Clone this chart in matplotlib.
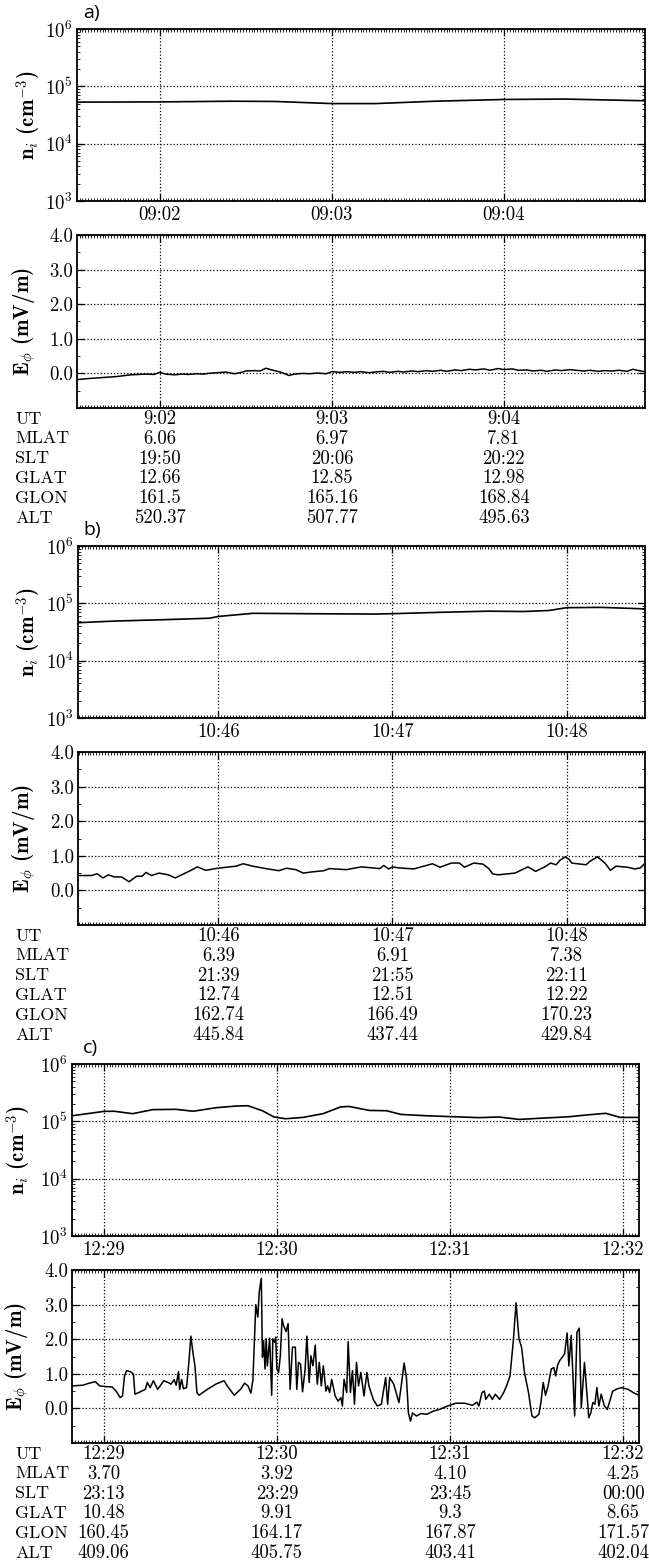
import matplotlib
matplotlib.use("Agg")
import matplotlib.pyplot as plt
from matplotlib.ticker import FixedLocator, MultipleLocator, LogLocator, NullFormatter
from matplotlib.transforms import blended_transform_factory

plt.rcParams["font.family"] = "serif"
plt.rcParams["font.serif"] = ["cmr10"]
plt.rcParams["mathtext.fontset"] = "cm"
plt.rcParams["axes.formatter.use_mathtext"] = True
plt.rcParams["font.size"] = 13.5

# ---- a) times in s after 09:01:00
a_ni_t = [31, 60, 85, 100, 120, 135, 156, 180, 201, 229]
a_ni = [5.3e4, 5.35e4, 5.5e4, 5.45e4, 5.0e4, 5.0e4, 5.5e4, 5.9e4, 6.0e4, 5.6e4]
a_e_t = [31, 35, 40, 45, 50, 55, 58, 60, 62, 65, 68, 70, 73, 75, 78, 80, 83, 86, 88,
         90, 93, 95, 97, 99, 101, 103, 105, 107, 110, 112, 115, 118, 120, 123, 125,
         128, 130, 133, 135, 138, 140, 143, 145, 148, 150, 153, 155, 158, 160, 163,
         165, 168, 170, 173, 175, 178, 180, 183, 185, 188, 190, 193, 195, 198, 200,
         203, 205, 208, 210, 213, 215, 218, 220, 223, 225, 227, 229]
a_e = [-0.18, -0.15, -0.12, -0.09, -0.04, -0.02, -0.03, 0.03, -0.02, -0.04, -0.02,
       -0.03, -0.01, -0.02, 0.01, 0.02, 0.04, -0.01, 0.02, 0.07, 0.08, 0.07, 0.15,
       0.10, 0.06, 0.01, -0.06, -0.02, 0.0, -0.01, 0.01, -0.01, 0.05, 0.03, 0.05,
       0.03, 0.05, 0.02, 0.04, 0.06, 0.03, 0.06, 0.04, 0.07, 0.05, 0.08, 0.06, 0.09,
       0.06, 0.10, 0.08, 0.12, 0.10, 0.13, 0.09, 0.14, 0.11, 0.13, 0.09, 0.10, 0.07,
       0.09, 0.06, 0.10, 0.08, 0.11, 0.09, 0.07, 0.09, 0.06, 0.08, 0.07, 0.09, 0.06,
       0.12, 0.08, 0.05]
a_xticks = [60, 120, 180]
a_ni_ticklabels = ["09:02", "09:03", "09:04"]
a_table = {
    "UT": ["9:02", "9:03", "9:04"],
    "MLAT": ["6.06", "6.97", "7.81"],
    "SLT": ["19:50", "20:06", "20:22"],
    "GLAT": ["12.66", "12.85", "12.98"],
    "GLON": ["161.5", "165.16", "168.84"],
    "ALT": ["520.37", "507.77", "495.63"],
}

# ---- b) times in s after 10:45:00
b_ni_t = [12, 24, 42, 57, 60, 72, 90, 114, 120, 138, 153, 165, 174, 180, 192, 207]
b_ni = [4.6e4, 4.9e4, 5.2e4, 5.5e4, 5.9e4, 6.7e4, 6.6e4, 6.5e4, 6.6e4, 7.0e4,
        7.3e4, 7.2e4, 7.5e4, 8.4e4, 8.5e4, 8.0e4]
b_e_t = [11.9, 16.4, 18.3, 20.3, 22.2, 24.1, 26.7, 29.3, 31.9, 33.8, 35.1, 37.0,
         39.6, 42.8, 45.2, 47.4, 50.6, 52.8, 55.7, 59.0, 62.8, 66.1, 68.6, 71.9,
         76.4, 80.9, 83.5, 86.7, 89.3, 91.9, 96.4, 98.3, 104.1, 109.3, 115.7, 117.0,
         118.7, 120.0, 122.2, 127.4, 129.9, 133.8, 136.4, 140.3, 143.1, 144.8, 148.0,
         151.2, 153.2, 154.5, 156.4, 162.2, 166.7, 169.3, 172.5, 174.5, 176.4, 177.7,
         179.6, 180.9, 181.8, 186.7, 188.0, 190.6, 193.2, 195.1, 197.0, 200.9, 203.5,
         205.4, 206.7]
b_e = [0.43, 0.43, 0.48, 0.36, 0.45, 0.39, 0.39, 0.25, 0.41, 0.41, 0.52, 0.43,
       0.50, 0.45, 0.36, 0.45, 0.58, 0.68, 0.58, 0.63, 0.67, 0.70, 0.77, 0.70, 0.63,
       0.57, 0.64, 0.60, 0.50, 0.53, 0.57, 0.63, 0.60, 0.68, 0.63, 0.72, 0.62, 0.68,
       0.65, 0.62, 0.68, 0.77, 0.67, 0.79, 0.79, 0.67, 0.79, 0.76, 0.63, 0.48, 0.45,
       0.50, 0.68, 0.55, 0.68, 0.79, 0.74, 0.87, 0.97, 0.89, 0.79, 0.74, 0.84, 0.97,
       0.79, 0.58, 0.70, 0.67, 0.62, 0.65, 0.76]
b_xticks = [60, 120, 180]
b_ni_ticklabels = ["10:46", "10:47", "10:48"]
b_table = {
    "UT": ["10:46", "10:47", "10:48"],
    "MLAT": ["6.39", "6.91", "7.38"],
    "SLT": ["21:39", "21:55", "22:11"],
    "GLAT": ["12.74", "12.51", "12.22"],
    "GLON": ["162.74", "166.49", "170.23"],
    "ALT": ["445.84", "437.44", "429.84"],
}

# ---- c) times in s after 12:28:00
c_ni_t = [49, 60, 63.6, 70, 77, 85, 91, 99, 106, 110, 115, 119, 123, 129, 136, 142,
          145, 152, 158, 163, 172, 182, 190, 197, 204, 211, 221, 228, 234, 239, 246]
c_ni = [1.25e5, 1.49e5, 1.5e5, 1.36e5, 1.6e5, 1.62e5, 1.5e5, 1.73e5, 1.85e5, 1.87e5,
        1.53e5, 1.19e5, 1.11e5, 1.17e5, 1.36e5, 1.78e5, 1.82e5, 1.55e5, 1.53e5,
        1.32e5, 1.25e5, 1.2e5, 1.16e5, 1.19e5, 1.08e5, 1.13e5, 1.2e5, 1.3e5, 1.38e5,
        1.17e5, 1.17e5]
c_e_t = [48.9, 52.8, 55.0, 57.1, 58.6, 60.7, 62.9, 64.3, 65.7, 66.5, 67.2, 67.9,
         69.3, 70.3, 70.8, 72.2, 74.4, 75.1, 76.1, 77.2, 78.7, 80.8, 82.3, 83.3, 84.4,
         85.1, 85.9, 86.3, 87.0, 87.6, 88.7, 89.4, 90.2, 90.9, 91.6, 92.3, 93.0, 95.9,
         98.8, 101.7, 102.8, 105.2, 107.4, 108.8, 110.0, 111.0, 111.7, 112.7, 113.4,
         113.9, 114.6, 115.0, 115.4, 115.9, 116.3, 116.7, 117.5, 118.2, 118.6, 119.2,
         119.6, 120.0, 120.6, 121.2, 121.8, 122.3, 123.2, 123.9, 124.6, 125.4, 126.4,
         126.9, 127.5, 128.2, 128.9, 129.8, 130.4, 131.2, 131.8, 132.5, 133.3, 134.0,
         134.7, 135.4, 136.1, 137.0, 137.6, 138.3, 139.0, 140.2, 141.2, 142.2, 142.7,
         143.3, 144.2, 144.7, 145.5, 146.2, 146.9, 147.6, 148.3, 149.1, 150.2, 151.2,
         151.9, 153.4, 154.8, 156.2, 157.7, 158.4, 159.1, 160.5, 162.3, 163.1, 164.1,
         164.9, 165.6, 166.3, 167.0, 168.4, 169.9, 172.0, 174.2, 176.3, 179.2, 182.1,
         185.0, 187.8, 189.3, 190.0, 191.1, 191.9, 192.4, 193.6, 194.7, 195.7, 197.2,
         198.6, 199.6, 200.8, 201.9, 202.9, 203.9, 204.8, 205.8, 207.2, 208.4, 209.4,
         210.8, 211.5, 212.3, 213.1, 214.0, 215.1, 216.0, 216.6, 217.3, 218.0, 218.9,
         219.7, 220.6, 221.2, 222.0, 223.2, 224.0, 224.8, 225.5, 226.6, 228.1, 228.8,
         229.5, 230.2, 230.9, 231.6, 232.4, 233.5, 234.5, 236.4, 238.1, 239.6, 241.7,
         243.9, 246.0]
c_e = [0.65, 0.67, 0.73, 0.77, 0.65, 0.63, 0.62, 0.50, 0.31, 0.36, 0.94, 1.09,
       1.06, 0.99, 0.41, 0.46, 0.55, 0.75, 0.60, 0.80, 0.55, 0.80, 0.75, 0.70, 0.83,
       0.67, 1.06, 0.55, 0.84, 0.57, 0.60, 1.23, 2.09, 1.62, 1.23, 0.46, 0.38, 0.55,
       0.70, 0.80, 0.65, 0.38, 0.55, 0.73, 0.65, 0.44, 0.83, 3.00, 2.64, 3.37, 3.76,
       1.48, 1.96, 1.14, 2.01, 1.23, 2.03, 0.38, 2.01, 1.91, 2.06, 1.14, 1.04, 1.52,
       2.59, 2.40, 2.22, 2.45, 0.55, 1.77, 1.77, 0.55, 1.33, 1.28, 0.48, 1.14, 2.09,
       0.75, 1.52, 1.23, 1.83, 0.70, 1.33, 0.65, 1.23, 0.50, 0.65, 0.46, 0.84, 0.36,
       0.21, 0.31, 0.07, 0.84, 0.46, 1.93, 0.46, 1.09, 0.12, 1.33, 0.65, 1.04, 0.36,
       1.04, 0.65, 0.26, 0.07, 0.12, 0.89, 0.12, 0.89, 0.70, 0.17, 0.65, 1.31, 0.89,
       -0.13, -0.37, -0.13, -0.22, -0.15, -0.17, -0.08, -0.03, 0.07, 0.15, 0.15, 0.09,
       0.18, 0.07, 0.46, 0.50, 0.26, 0.41, 0.26, 0.41, 0.26, 0.46, 0.65, 0.94, 1.91,
       3.05, 2.01, 1.77, 1.04, 0.46, -0.22, -0.27, -0.17, 0.17, 0.75, 0.38, 0.65,
       1.14, 1.18, 0.94, 1.25, 1.38, 1.48, 1.57, 2.18, 1.23, 2.11, -0.22, 2.20, 2.32,
       0.02, 1.33, -0.27, -0.13, 0.17, 0.12, 0.60, 0.07, 0.41, 0.07, -0.03, 0.50,
       0.57, 0.60, 0.55, 0.44, 0.36]
c_xticks = [60, 120, 180, 240]
c_ni_ticklabels = ["12:29", "12:30", "12:31", "12:32"]
c_table = {
    "UT": ["12:29", "12:30", "12:31", "12:32"],
    "MLAT": ["3.70", "3.92", "4.10", "4.25"],
    "SLT": ["23:13", "23:29", "23:45", "00:00"],
    "GLAT": ["10.48", "9.91", "9.3", "8.65"],
    "GLON": ["160.45", "164.17", "167.87", "171.57"],
    "ALT": ["409.06", "405.75", "403.41", "402.04"],
}

W, H = 649, 1563
fig = plt.figure(figsize=(W / 100, H / 100), dpi=100)


def px_axes(left, top, right, bottom):
    return fig.add_axes([left / W, 1 - bottom / H, (right - left) / W, (bottom - top) / H])


def style(ax, xlim, xticks):
    ax.set_xlim(xlim)
    ax.xaxis.set_major_locator(FixedLocator(xticks))
    ax.xaxis.set_minor_locator(MultipleLocator(1))
    ax.tick_params(which="both", direction="in", top=True, right=True)
    ax.tick_params(which="major", length=5, width=0.9, pad=4, labelsize=13.5)
    ax.tick_params(axis="y", which="major", pad=3)
    ax.tick_params(which="minor", length=2.5, width=0.6)
    ax.grid(True, which="major", linestyle=":", color="k", linewidth=0.9)
    for sp in ax.spines.values():
        sp.set_linewidth(1.3)


def panel(tag, top, left, right, xlim, xticks, ni_t, ni, ni_labels, e_t, e, table, lab_x):
    ax1 = px_axes(left, top + 17, right, top + 189)
    ax1.plot(ni_t, ni, color="k", lw=1.2)
    ax1.set_yscale("log")
    ax1.set_ylim(1e3, 1e6)
    ax1.yaxis.set_major_locator(LogLocator(base=10, numticks=10))
    ax1.yaxis.set_minor_locator(LogLocator(base=10, subs=range(2, 10), numticks=10))
    ax1.yaxis.set_minor_formatter(NullFormatter())
    style(ax1, xlim, xticks)
    ax1.set_xticklabels(ni_labels)
    ax1.set_ylabel(r"n$_i$ (cm$^{-3}$)", family="cmb10", fontsize=15)
    ax1.yaxis.set_label_coords((lab_x[0] - left) / (right - left), 0.5)

    ax2 = px_axes(left, top + 223, right, top + 396)
    ax2.plot(e_t, e, color="k", lw=1.1)
    ax2.set_ylim(-1, 4)
    ax2.set_yticks([0, 1, 2, 3, 4])
    ax2.set_yticklabels(["0.0", "1.0", "2.0", "3.0", "4.0"])
    ax2.yaxis.set_minor_locator(MultipleLocator(0.5))
    style(ax2, xlim, xticks)
    ax2.tick_params(labelbottom=False)
    ax2.set_ylabel(r"E$_\phi$ (mV/m)", family="cmb10", fontsize=15)
    ax2.yaxis.set_label_coords((lab_x[1] - left) / (right - left), 0.5)

    fig.text(83 / W, 1 - (top + 1) / H, tag, family="Open Sans", fontsize=14,
             ha="left", va="center")

    tr = blended_transform_factory(ax2.transData, fig.transFigure)
    y0 = top + 407
    for i, (name, vals) in enumerate(table.items()):
        y = 1 - (y0 + i * 19.8) / H
        fig.text(15 / W, y, name, ha="left", va="center", fontsize=13)
        for x, v in zip(xticks, vals):
            ax2.text(x, y, v, transform=tr, ha="center", va="center", fontsize=13.5,
                     clip_on=False)
    return ax1, ax2


panel("a)", 12, 77, 645, (31.1, 229.2), a_xticks, a_ni_t, a_ni, a_ni_ticklabels,
      a_e_t, a_e, a_table, (44, 38))
panel("b)", 529, 78, 645, (11.7, 207), b_xticks, b_ni_t, b_ni, b_ni_ticklabels,
      b_e_t, b_e, b_table, (44, 38))
panel("c)", 1047, 72, 639, (49, 245.5), c_xticks, c_ni_t, c_ni, c_ni_ticklabels,
      c_e_t, c_e, c_table, (34, 31))

fig.savefig("out.png", dpi=100)
